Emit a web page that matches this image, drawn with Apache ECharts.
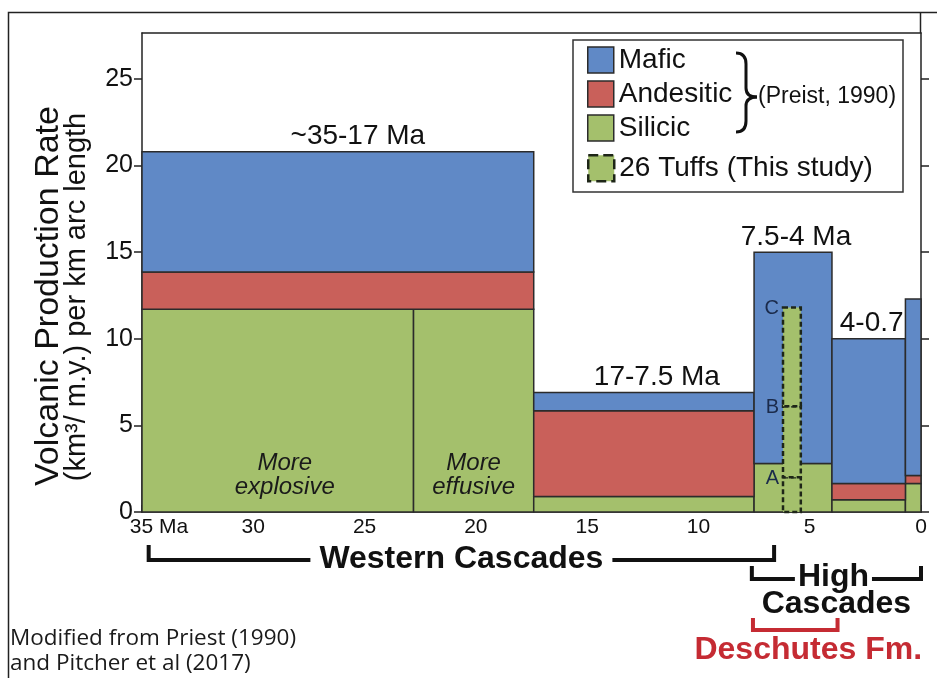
<!DOCTYPE html>
<html>
<head>
<meta charset="utf-8">
<script src="https://cdn.jsdelivr.net/npm/echarts@6/dist/echarts.min.js"></script>
<style>
  html, body { margin: 0; padding: 0; background: #fff; }
  #chart { width: 937px; height: 678px; }
</style>
</head>
<body>
<div id="chart"></div>
<script>
// Time periods (Ma) and volcanic production rates (km³/m.y. per km arc length)
const periodStartMa = [35, 17.4, 7.5, 4, 0.7];
const periodEndMa   = [17.4, 7.5, 4, 0.7, 0];
const periodLabels  = ['~35-17 Ma', '17-7.5 Ma', '7.5-4 Ma', '4-0.7', ''];
const silicicRate   = [11.7, 0.9, 2.8, 0.7, 1.65];
const andesiticRate = [2.15, 4.95, 0, 0.95, 0.45];
const maficRate     = [6.95, 1.05, 12.2, 8.35, 10.2];

// Eruptive style change inside the oldest period
const styleSplitMa = 22.8;
const styleLabels  = ['More\nexplosive', 'More\neffusive'];

// Deschutes Formation tuffs (this study): cumulative levels A, B, C
const tuffRangeMa = [6.2, 5.4];
const tuffLevels  = [2.0, 6.1, 11.8];
const tuffLabels  = ['A', 'B', 'C'];

// Axis ticks
const xTickValues = [35, 30, 25, 20, 15, 10, 5, 0];
const xTickLabels = ['35 Ma', '30', '25', '20', '15', '10', '5', '0'];
const yTickValues = [0, 5, 10, 15, 20, 25];
const yTickLabels = ['0', '5', '10', '15', '20', '25'];

// Arc segments shown as brackets under the time axis (Ma)
const westernRangeMa   = [34.7, 6.6];
const highRangeMa      = [7.6, 0];
const deschutesRangeMa = [7.55, 3.75];

const FONT = "'Liberation Sans', Arial, Helvetica, sans-serif";
const COLORS = { mafic: '#6089c6', andesitic: '#c9605a', silicic: '#a4c06c' };
const EDGE = '#2b2b2b';
const TUFF_EDGE = '#1e2618';
const RED = '#c52b33';

// --- build rectangles [startMa, endMa, base, top] ---
const silicicData = [], silicicText = [];
const andesiticData = [], maficData = [], maficText = [], maficShift = [];
const labelShift = [20, 13, 3, 3, 0];
periodStartMa.forEach((s, i) => {
  const e = periodEndMa[i];
  const sTop = silicicRate[i];
  const aTop = sTop + andesiticRate[i];
  const mTop = aTop + maficRate[i];
  if (i === 0) {
    silicicData.push([s, styleSplitMa, 0, sTop]); silicicText.push(styleLabels[0]);
    silicicData.push([styleSplitMa, e, 0, sTop]); silicicText.push(styleLabels[1]);
  } else {
    silicicData.push([s, e, 0, sTop]); silicicText.push('');
  }
  if (andesiticRate[i] > 0) andesiticData.push([s, e, sTop, aTop]);
  maficData.push([s, e, aTop, mTop]); maficText.push(periodLabels[i]); maficShift.push(labelShift[i]);
});
const tuffData = tuffLevels.map((top, i) => [tuffRangeMa[0], tuffRangeMa[1], i === 0 ? 0 : tuffLevels[i - 1], top]);

function rectOf(api) {
  const a = api.coord([api.value(0), api.value(3)]);
  const b = api.coord([api.value(1), api.value(2)]);
  return {
    x: Math.min(a[0], b[0]), y: Math.min(a[1], b[1]),
    width: Math.abs(b[0] - a[0]), height: Math.abs(b[1] - a[1])
  };
}

function blockRenderer(color, texts, kind) {
  return function (params, api) {
    const r = rectOf(api);
    const children = [{
      type: 'rect', shape: r,
      style: { fill: color, stroke: EDGE, lineWidth: 1.5 }
    }];
    const t = texts ? texts[params.dataIndex] : '';
    if (t && kind === 'style') {
      children.push({
        type: 'text', z2: 10,
        style: {
          text: t, x: r.x + r.width / 2 + (params.dataIndex === 0 ? 7 : 0), y: r.y + r.height - 37,
          align: 'center', verticalAlign: 'middle',
          font: 'italic 24px ' + FONT, lineHeight: 24, fill: '#1a1a1a'
        }
      });
    }
    if (t && kind === 'period') {
      children.push({
        type: 'text', z2: 10,
        style: {
          text: t, x: r.x + r.width / 2 + maficShift[params.dataIndex], y: r.y - 1,
          align: 'center', verticalAlign: 'bottom',
          font: '28px ' + FONT, fill: '#111'
        }
      });
    }
    return { type: 'group', children };
  };
}

function tuffRenderer(params, api) {
  const r = rectOf(api);
  return {
    type: 'group',
    children: [
      { type: 'rect', shape: r,
        style: { fill: COLORS.silicic, stroke: TUFF_EDGE, lineWidth: 2.5, lineDash: [5, 3] } },
      { type: 'text',
        style: { text: tuffLabels[params.dataIndex], x: r.x - 4, y: r.y + 1,
                 align: 'right', verticalAlign: 'middle', font: '20px ' + FONT, fill: '#1b2b4b' } }
    ]
  };
}

const chart = echarts.init(document.getElementById('chart'), null, { renderer: 'canvas' });

const axisLine = { show: true, onZero: false, lineStyle: { color: '#222', width: 1.5 } };
const tickStyle = { color: '#222', width: 1.5 };

chart.setOption({
  animation: false,
  backgroundColor: '#fff',
  grid: { left: 142, right: 16, top: 33, bottom: 166, containLabel: false },
  xAxis: [{
    type: 'value', min: 0, max: 35, interval: 5, inverse: true,
    axisLine, splitLine: { show: false },
    axisTick: { show: true, inside: true, length: 7, lineStyle: tickStyle, customValues: xTickValues },
    axisLabel: {
      margin: 5, color: '#111', fontFamily: FONT, fontSize: 21,
      customValues: xTickValues,
      formatter: v => {
        const t = xTickLabels[xTickValues.indexOf(v)];
        return v === 35 ? '{ma|' + t + '}' : t;
      },
      rich: { ma: { fontFamily: FONT, fontSize: 21, color: '#111', padding: [0, 0, 0, 34] } }
    }
  }, {
    type: 'value', position: 'top', min: 0, max: 35, inverse: true,
    axisLine, axisTick: { show: false }, axisLabel: { show: false }, splitLine: { show: false }
  }],
  yAxis: [{
    type: 'value', position: 'left', min: 0, max: 27.65, interval: 5,
    axisLine, splitLine: { show: false },
    axisTick: { show: true, length: 8, lineStyle: tickStyle, customValues: yTickValues },
    axisLabel: { margin: 9, color: '#111', fontFamily: FONT, fontSize: 25,
                 customValues: yTickValues,
                 formatter: v => yTickLabels[yTickValues.indexOf(v)] }
  }, {
    type: 'value', position: 'right', min: 0, max: 27.65, interval: 5,
    axisLine, splitLine: { show: false },
    axisTick: { show: true, length: 8, lineStyle: tickStyle, customValues: yTickValues },
    axisLabel: { show: false }
  }],
  legend: [{
    data: ['Mafic', 'Andesitic', 'Silicic'],
    orient: 'vertical', left: 587, top: 46, padding: 0,
    itemWidth: 26, itemHeight: 26, itemGap: 6, icon: 'rect', selectedMode: false,
    itemStyle: { borderColor: EDGE, borderWidth: 1.5 },
    textStyle: { fontFamily: FONT, fontSize: 28, color: '#111' }
  }, {
    data: [{ name: '26 Tuffs (This study)',
             itemStyle: { borderType: 'dashed', borderColor: TUFF_EDGE, borderWidth: 2.5 } }],
    orient: 'vertical', left: 587, top: 154, padding: 0,
    itemWidth: 26, itemHeight: 26, icon: 'rect', selectedMode: false,
    textStyle: { fontFamily: FONT, fontSize: 28, color: '#111' }
  }],
  series: [
    { name: 'Silicic', type: 'custom', itemStyle: { color: COLORS.silicic },
      renderItem: blockRenderer(COLORS.silicic, silicicText, 'style'),
      encode: { x: [0, 1], y: [2, 3] }, data: silicicData, z: 2 },
    { name: 'Andesitic', type: 'custom', itemStyle: { color: COLORS.andesitic },
      renderItem: blockRenderer(COLORS.andesitic, null, null),
      encode: { x: [0, 1], y: [2, 3] }, data: andesiticData, z: 2 },
    { name: 'Mafic', type: 'custom', itemStyle: { color: COLORS.mafic },
      renderItem: blockRenderer(COLORS.mafic, maficText, 'period'),
      encode: { x: [0, 1], y: [2, 3] }, data: maficData, z: 2 },
    { name: '26 Tuffs (This study)', type: 'custom', itemStyle: { color: COLORS.silicic },
      renderItem: tuffRenderer,
      encode: { x: [0, 1], y: [2, 3] }, data: tuffData, z: 3 }
  ]
});

// --- annotations: legend frame, brace, axis title, arc brackets, credit ---
const px = ma => chart.convertToPixel({ xAxisIndex: 0 }, ma);

function bracket(range, yTop, yBottom, color) {
  const x0 = px(range[0]), x1 = px(range[1]);
  return {
    type: 'polyline', z: 5,
    shape: { points: [[x0, yTop], [x0, yBottom], [x1, yBottom], [x1, yTop]] },
    style: { stroke: color, lineWidth: 4, fill: null }
  };
}
function centeredText(text, range, y, color, gap, dx) {
  return {
    type: 'text', z: 6,
    style: {
      text, x: (px(range[0]) + px(range[1])) / 2 + (dx || 0), y,
      align: 'center', verticalAlign: 'middle',
      font: 'bold 32px ' + FONT, fill: color,
      backgroundColor: gap != null ? '#fff' : null, padding: gap != null ? [0, gap] : 0
    }
  };
}
function curve(x1, y1, cx, cy, x2, y2) {
  return { type: 'bezierCurve', z: 5, shape: { x1, y1, cpx1: cx, cpy1: cy, x2, y2 },
           style: { stroke: '#111', lineWidth: 3, fill: null } };
}
function seg(x1, y1, x2, y2) {
  return { type: 'line', z: 5, shape: { x1, y1, x2, y2 }, style: { stroke: '#111', lineWidth: 3 } };
}

const graphics = [
  // page frame
  { type: 'polyline', shape: { points: [[8.5, 678], [8.5, 12.5], [937, 12.5]] },
    style: { stroke: '#222', lineWidth: 1.5, fill: null } },
  { type: 'line', shape: { x1: 920.5, y1: 12.5, x2: 920.5, y2: 33 },
    style: { stroke: '#222', lineWidth: 1.5 } },
  // legend frame
  { type: 'rect', z: -1, shape: { x: 573, y: 40, width: 330, height: 152 },
    style: { fill: '#fff', stroke: '#333', lineWidth: 1.5 } },
  // brace grouping the three rock types
  curve(736, 53, 746, 53, 746, 64),
  seg(746, 64, 746, 88),
  curve(746, 88, 746, 97, 757, 97),
  curve(757, 97, 746, 97, 746, 106),
  seg(746, 106, 746, 121),
  curve(746, 121, 746, 132, 736, 132),
  { type: 'text', z: 5,
    style: { text: '(Preist, 1990)', x: 758, y: 97, align: 'left', verticalAlign: 'middle',
             font: '23px ' + FONT, fill: '#111' } },
  // y axis title
  { type: 'text', rotation: Math.PI / 2, x: 49, y: 296,
    style: { text: 'Volcanic Production Rate', x: 0, y: 0, align: 'center', verticalAlign: 'middle',
             font: '34px ' + FONT, fill: '#111' } },
  { type: 'text', rotation: Math.PI / 2, x: 77, y: 297,
    style: { text: '(km³/ m.y.) per km arc length', x: 0, y: 0, align: 'center', verticalAlign: 'middle',
             font: '29px ' + FONT, fill: '#111' } },
  // arc segments
  bracket(westernRangeMa, 545, 560, '#111'),
  centeredText('Western Cascades', westernRangeMa, 559, '#111', 9),
  bracket(highRangeMa, 566, 579, '#111'),
  centeredText('High', highRangeMa, 577, '#111', 3, -3),
  centeredText('Cascades', highRangeMa, 604, '#111'),
  bracket(deschutesRangeMa, 618, 630, RED),
  centeredText('Deschutes Fm.', deschutesRangeMa, 650, RED, null, 13),
  // credit
  { type: 'text',
    style: { text: 'Modified from Priest (1990)\nand Pitcher et al (2017)', x: 10, y: 651,
             align: 'left', verticalAlign: 'middle', lineHeight: 25,
             font: "22.5px 'Open Sans', 'Noto Sans', sans-serif", fill: '#1a1a1a' } }
];

chart.setOption({ graphic: graphics });
</script>
</body>
</html>
